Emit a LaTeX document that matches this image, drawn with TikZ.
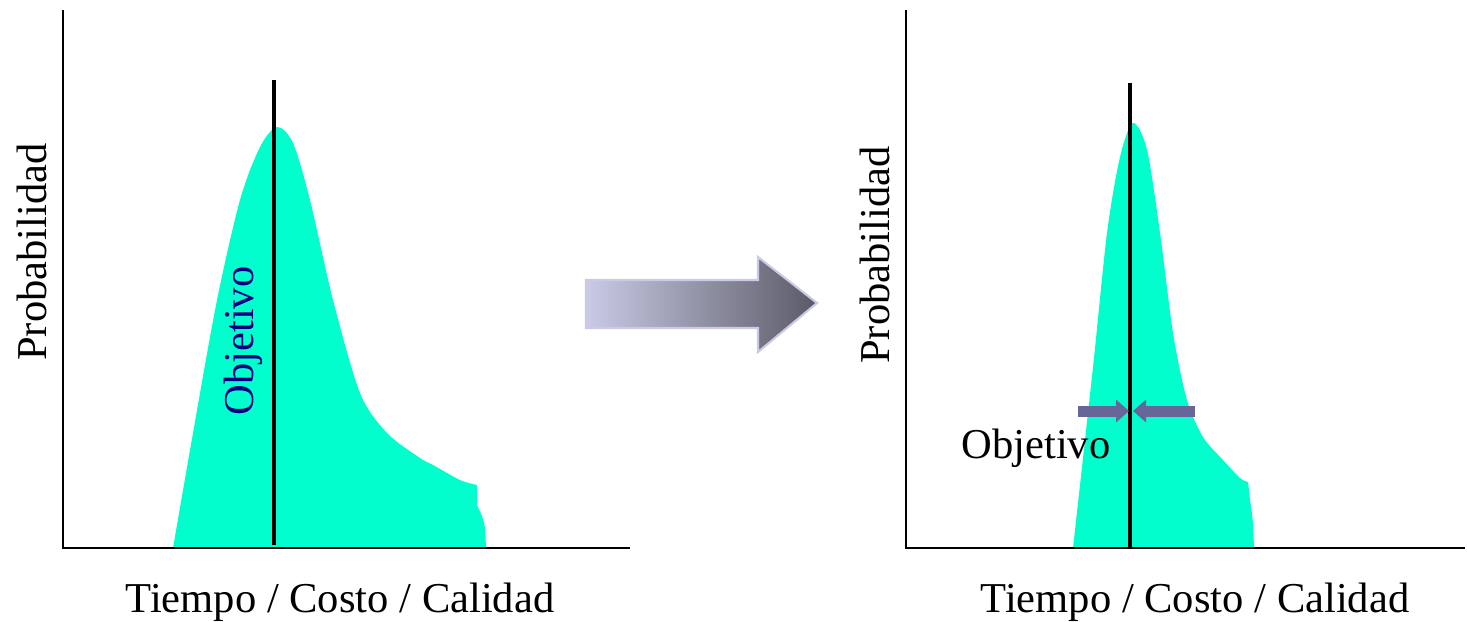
\documentclass[tikz,border=0pt]{standalone}
\usepackage{fontspec}
\setmainfont{Liberation Serif}
\usetikzlibrary{arrows.meta}
\definecolor{campana}{RGB}{0,255,204}
\definecolor{marino}{RGB}{0,0,128}
\definecolor{flechita}{RGB}{102,102,153}
\definecolor{lila}{RGB}{202,202,230}
\definecolor{gris}{RGB}{90,90,102}
\tikzset{
  eje/.style={line width=0.7pt},
  meta/.style={line width=1.15pt},
  rotulo/.style={inner sep=0pt, anchor=base, font=\fontsize{12.1pt}{14pt}\selectfont},
  estrecho/.style={flechita, line width=0.11cm, -{Triangle[length=0.13cm,width=0.22cm]}}
}
\begin{document}
\begin{tikzpicture}[x=0.01cm, y=-0.01cm]
  \useasboundingbox (0,0) rectangle (1467,621);
  % antes
  \fill[campana] plot[smooth, tension=0.5] coordinates {(173,548) (193,433) (217,300) (240,200) (260,147) (277,127) (293,143) (310,200) (333,300) (360,393) (387,433) (420,458) (433,465) (460,480) (477,485)} -- (477,505) .. controls (485,522) .. (486,548) -- cycle;
  \draw[meta] (274,80) -- (274,545);
  \draw[eje] (63,10) -- (63,548) -- (630,548);
  \node[rotulo, rotate=90] (probA) at (46,252) {Probabilidad};
  \node[rotulo, rotate=90, text=marino] (metaA) at (253,341) {Objetivo};
  \node[rotulo] (ejeA) at (340,612) {Tiempo / Costo / Calidad};
  % flecha grande
  \shadedraw[left color=lila, right color=gris, draw=lila, line width=0.6pt]
    (586,280) -- (758,280) -- (758,257) -- (817,303) -- (758,352) -- (758,328) -- (586,328) -- cycle;
  % despues
  \fill[campana] plot[smooth, tension=0.5] coordinates {(1073,548) (1093,367) (1107,233) (1120,157) (1133,123) (1147,150) (1160,233) (1173,333) (1187,400) (1203,437) (1223,460) (1240,478) (1248,482)} -- (1250,500) .. controls (1253,520) .. (1254,548) -- cycle;
  \draw[meta] (1130,83) -- (1130,548);
  \draw[eje] (906,10) -- (906,548) -- (1465,548);
  \node[rotulo, rotate=90] (probB) at (889,255) {Probabilidad};
  \node[rotulo] (metaB) at (1036,458) {Objetivo};
  \node[rotulo] (ejeB) at (1195,612) {Tiempo / Costo / Calidad};
  \coordinate (izq) at (1078,411);
  \coordinate (der) at (1195,411);
  \coordinate (puntaI) at (1129,411);
  \coordinate (puntaD) at (1133,411);
  \draw[estrecho] (izq) -- (puntaI);
  \draw[estrecho] (der) -- (puntaD);
\end{tikzpicture}
\end{document}
